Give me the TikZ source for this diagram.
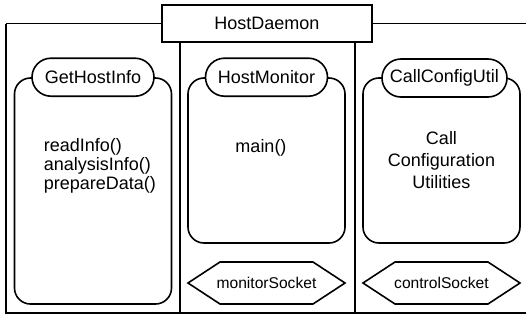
\documentclass[tikz,border=0pt]{standalone}
\usepackage{fontspec}
\setmainfont{Liberation Sans}

\begin{document}
\begin{tikzpicture}[
  x=0.5pt,
  y=-0.5pt,
  line width=0.8pt,
  font=\fontsize{9}{9.6}\selectfont,
  block/.style={
    draw,
    fill=white,
    minimum width=105pt,
    minimum height=18.5pt
  },
  part/.style={
    draw,
    rounded corners=8pt,
    minimum width=78.5pt
  },
  pill/.style={
    draw,
    fill=white,
    rounded corners=9.5pt,
    minimum height=19pt,
    minimum width=61pt,
    inner xsep=4pt
  },
  socket/.style={
    inner sep=0pt,
    font=\fontsize{7.8}{9}\selectfont
  }
  ]

  \useasboundingbox (0,0) rectangle (526,322);

  % outer frame and columns
  \draw (6,23.5) -- (6,313) -- (526,313);
  \draw (180,42) -- (180,313);
  \draw (355,42) -- (355,313);

  \node (daemon) [block] at (267,23.5) {HostDaemon};
  \draw (daemon.west) -- (6,23.5);
  \draw (daemon.east) -- (526,23.5);

  \node (info-box) [part,minimum height=113pt] at (93,191) {};
  \node (monitor-box) [part,minimum height=82.5pt] at (266.5,160.5) {};
  \node (config-box) [part,minimum height=82.5pt] at (441.5,160.5) {};

  \node (get-host-info) [pill] at (info-box.north) {GetHostInfo};
  \node (host-monitor) [pill] at (monitor-box.north) {HostMonitor};
  \node (call-config-util) [pill] at (444.5,78) {CallConfigUtil};

  \node (info-calls) [anchor=west,align=left,inner sep=0pt] at (43,166)
    {readInfo()\\analysisInfo()\\prepareData()};
  \node (main-call) [inner sep=0pt] at (261,148) {main()};
  \node (config-calls) [align=center,inner sep=0pt,
    font=\fontsize{9}{11}\selectfont] at (441.5,160)
    {Call\\Configuration\\Utilities};

  \node (monitor-socket) [socket] at (266.5,283) {monitorSocket};
  \node (control-socket) [socket] at (441.5,283) {controlSocket};

  % hexagon outlines of the sockets
  \foreach \s in {monitor-socket,control-socket}
    \draw ([shift={(-46.5,-21)}]\s.center) -- ([shift={(46.5,-21)}]\s.center)
      -- ([shift={(78.5,0)}]\s.center) -- ([shift={(46.5,21)}]\s.center)
      -- ([shift={(-46.5,21)}]\s.center) -- ([shift={(-78.5,0)}]\s.center)
      -- cycle;
\end{tikzpicture}
\end{document}
